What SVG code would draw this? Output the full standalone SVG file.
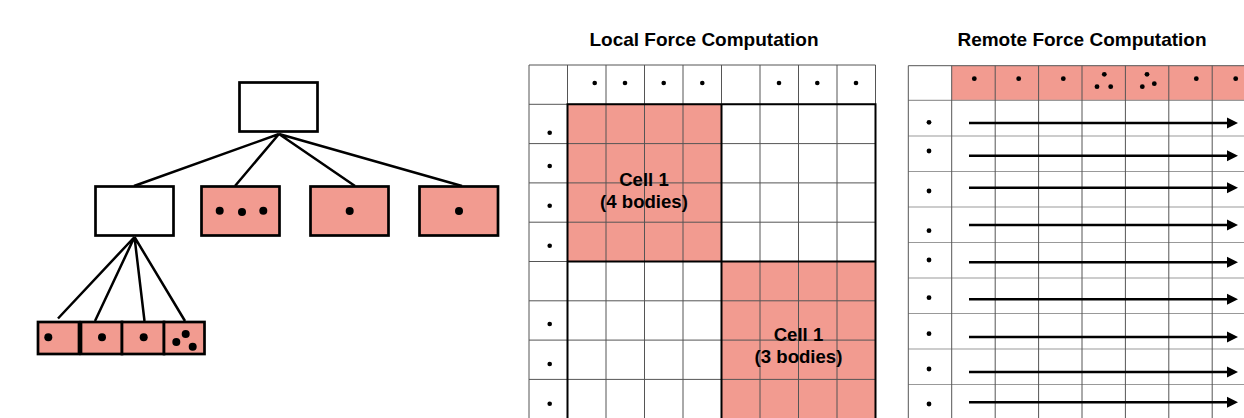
<svg xmlns="http://www.w3.org/2000/svg" width="1244" height="418" viewBox="0 0 1244 418">
<defs>
<style>
.box{stroke:#000;stroke-width:2.7;}
.pink{fill:#F29B90;}
.white{fill:#fff;}
.edge{stroke:#000;stroke-width:2.5;fill:none;}
.thin{stroke:#555;stroke-width:1;fill:none;}
.thinh{stroke:#999;stroke-width:1.2;fill:none;}
.thick{stroke:#000;stroke-width:2;fill:none;}
.title{font-family:"Liberation Sans",Arial,sans-serif;font-weight:bold;font-size:19px;fill:#000;text-anchor:middle;}
.lbl{font-family:"Liberation Sans",Arial,sans-serif;font-weight:bold;font-size:18.6px;fill:#000;text-anchor:middle;}
.arrow{stroke:#000;stroke-width:2.6;fill:none;marker-end:url(#ah);}
</style>
<marker id="ah" markerUnits="userSpaceOnUse" markerWidth="12" markerHeight="12" refX="1" refY="6" orient="auto" viewBox="0 0 12 12">
<path d="M0,0.5 L11,6 L0,11.5 Z" fill="#000"/>
</marker>
</defs>

<g id="connectors">
<path class="edge" d="M279,134 L134,186 M279,134 L235,186 M279,134 L355,186 M279,134 L462,186"/>
<path class="edge" d="M134.5,237 L58,318.5 M134.5,237 L95,321 M134.5,237 L144.5,321 M134.5,237 L185,321"/>
</g>

<g id="tree-root"><rect class="box white" x="239.5" y="82.5" width="78" height="49"/></g>
<g id="tree-n1"><rect class="box white" x="95.5" y="186.5" width="78" height="49"/></g>
<g id="tree-n2"><rect class="box pink" x="201.5" y="186.5" width="78" height="49"/>
<circle cx="219.7" cy="210.7" r="4"/><circle cx="242" cy="212" r="4"/><circle cx="263.3" cy="210.7" r="4"/></g>
<g id="tree-n3"><rect class="box pink" x="310.5" y="186.5" width="78" height="49"/><circle cx="349.7" cy="211" r="4"/></g>
<g id="tree-n4"><rect class="box pink" x="419.5" y="186.5" width="78.5" height="49"/><circle cx="459" cy="211" r="4"/></g>
<g id="tree-l1"><rect class="box pink" x="38" y="322" width="41" height="32"/><circle cx="48.3" cy="337.3" r="4"/></g>
<g id="tree-l2"><rect class="box pink" x="81" y="322" width="41" height="32"/><circle cx="102" cy="337.3" r="4"/></g>
<g id="tree-l3"><rect class="box pink" x="122" y="322" width="42" height="32"/><circle cx="143.7" cy="337.3" r="4"/></g>
<g id="tree-l4"><rect class="box pink" x="164" y="322" width="40.5" height="32"/>
<circle cx="185.7" cy="334" r="4"/><circle cx="176.3" cy="342" r="4"/><circle cx="192.7" cy="346.7" r="4"/></g>

<g id="local">
<text class="title" x="704" y="46">Local Force Computation</text>
<rect class="pink" x="567.5" y="104.3" width="154" height="157.2"/>
<rect class="pink" x="721.5" y="261.5" width="154" height="160"/>
<path class="thin" d="M529,65 V420 M567.5,65 V420 M606,65 V420 M644.5,65 V420 M683,65 V420 M721.5,65 V420 M760,65 V420 M798.5,65 V420 M837,65 V420 M875.5,65 V420"/>
<path class="thin" d="M529,65 H875.5 M529,104.3 H875.5 M529,143.6 H875.5 M529,182.9 H875.5 M529,222.2 H875.5 M529,261.5 H875.5 M529,300.8 H875.5 M529,340.1 H875.5 M529,379.4 H875.5"/>
<path class="thick" d="M567.5,420 V104.3 H875.5 V420 M721.5,104.3 V420 M567.5,261.5 H875.5"/>
<g>
<circle cx="594.7" cy="83" r="2.3"/><circle cx="625" cy="83" r="2.3"/><circle cx="663.7" cy="83" r="2.3"/><circle cx="702.3" cy="83" r="2.3"/>
<circle cx="779" cy="83" r="2.3"/><circle cx="817.3" cy="83" r="2.3"/><circle cx="856" cy="83" r="2.3"/>
<circle cx="549.7" cy="132.7" r="2.3"/><circle cx="549.7" cy="166" r="2.3"/><circle cx="549.7" cy="205.7" r="2.3"/><circle cx="549.7" cy="245.7" r="2.3"/>
<circle cx="549.7" cy="324" r="2.3"/><circle cx="549.7" cy="364" r="2.3"/><circle cx="549.7" cy="403.7" r="2.3"/>
</g>
<text class="lbl" x="644" y="186">Cell 1</text>
<text class="lbl" x="644" y="207.5">(4 bodies)</text>
<text class="lbl" x="798.5" y="341">Cell 1</text>
<text class="lbl" x="798.5" y="362.5">(3 bodies)</text>
</g>

<g id="remote">
<text class="title" x="1082" y="46">Remote Force Computation</text>
<rect class="pink" x="951.7" y="65.7" width="300" height="34.6"/>
<path class="thinh" d="M908.3,100.3 H1244 M908.3,136 H1244 M908.3,171.5 H1244 M908.3,207 H1244 M908.3,242.5 H1244 M908.3,278 H1244 M908.3,313.5 H1244 M908.3,349 H1244 M908.3,384.5 H1244"/>
<path class="thin" d="M908.3,65.7 H1244 M908.3,65.7 V420 M951.7,65.7 V420 M995.2,65.7 V420 M1038.6,65.7 V420 M1082,65.7 V420 M1125.4,65.7 V420 M1168.8,65.7 V420 M1212.2,65.7 V420"/>
<g>
<circle cx="974.3" cy="78.7" r="2.4"/><circle cx="1018.7" cy="78.7" r="2.4"/><circle cx="1063.3" cy="78.7" r="2.4"/>
<circle cx="1104.3" cy="74.3" r="2.4"/><circle cx="1097" cy="86.7" r="2.4"/><circle cx="1110.7" cy="86.7" r="2.4"/>
<circle cx="1147" cy="74.3" r="2.4"/><circle cx="1142.3" cy="86.7" r="2.4"/><circle cx="1154.3" cy="83.7" r="2.4"/>
<circle cx="1196.3" cy="78.7" r="2.4"/><circle cx="1235.7" cy="78.7" r="2.4"/>
<circle cx="929" cy="122.3" r="2.4"/><circle cx="929" cy="151" r="2.4"/><circle cx="929" cy="191" r="2.4"/><circle cx="929" cy="230.7" r="2.4"/>
<circle cx="929" cy="260" r="2.4"/><circle cx="929" cy="297.7" r="2.4"/><circle cx="929" cy="333.7" r="2.4"/><circle cx="929" cy="369" r="2.4"/><circle cx="929" cy="404" r="2.4"/>
</g>
<path class="arrow" d="M969,123 H1228"/>
<path class="arrow" d="M969,155.7 H1228"/>
<path class="arrow" d="M969,187.7 H1228"/>
<path class="arrow" d="M969,225 H1228"/>
<path class="arrow" d="M969,262.3 H1228"/>
<path class="arrow" d="M969,299.3 H1228"/>
<path class="arrow" d="M969,337 H1228"/>
<path class="arrow" d="M969,372 H1228"/>
<path class="arrow" d="M969,402.3 H1228"/>
</g>
</svg>
